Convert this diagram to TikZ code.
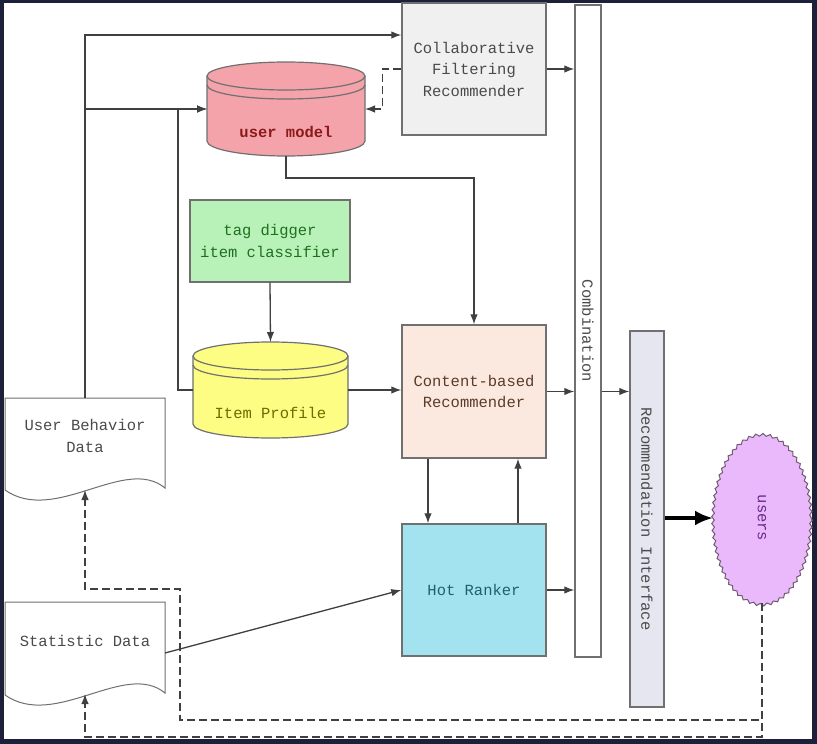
\documentclass[tikz,border=0pt]{standalone}
\usepackage{fontspec}
\setmonofont{Liberation Mono}
\usetikzlibrary{arrows.meta,decorations.pathmorphing,calc,shapes.geometric}
\definecolor{framec}{HTML}{1C2038}
\definecolor{linec}{HTML}{404040}
\definecolor{bordc}{HTML}{707070}
\definecolor{cfc}{HTML}{F0F0F0}
\definecolor{umc}{HTML}{F5A3AB}
\definecolor{tdc}{HTML}{B9F2B9}
\definecolor{ipc}{HTML}{FDFD84}
\definecolor{cbc}{HTML}{FBE9DF}
\definecolor{hrc}{HTML}{A3E3EF}
\definecolor{ric}{HTML}{E6E6F0}
\definecolor{usc}{HTML}{E9B9FB}
\definecolor{grayt}{HTML}{4A4A4A}
\definecolor{umt}{HTML}{8B1A1A}
\definecolor{tdt}{HTML}{1F6F1F}
\definecolor{ipt}{HTML}{6B6B00}
\definecolor{cbt}{HTML}{5B3A2A}
\definecolor{hrt}{HTML}{1F5F6F}
\definecolor{ust}{HTML}{6A2A8A}
\newcommand{\dfont}{\ttfamily\fontsize{15.5}{21.5}\selectfont}
\begin{document}
\begin{tikzpicture}[x=1pt,y=-1pt,
  box/.style={draw=bordc, line width=1.4pt, inner sep=0pt, align=center, font=\dfont},
  anchorbox/.style={inner sep=0pt, outer sep=0pt},
  lbl/.style={font=\dfont, align=center, inner sep=0pt},
  cyl/.style={draw=bordc, line width=1.2pt},
  docst/.style={draw=bordc, line width=1pt, fill=white},
  arr/.style={draw=linec, line width=1.3pt, -{Latex[length=10pt,width=7.5pt]}},
  dasharr/.style={draw=linec, line width=1.3pt, dash pattern=on 8pt off 4pt, -{Latex[length=10pt,width=7.5pt]}},
  thickarr/.style={draw=black, line width=3.5pt, -{Latex[length=18pt,width=15pt]}}
]
\useasboundingbox (0,0) rectangle (817,744);
\fill[framec] (0,0) rectangle (817,744);
\fill[white] (4,3) rectangle (812,739);

% Collaborative Filtering Recommender
\node[box, fill=cfc, text=grayt, minimum width=144pt, minimum height=132pt] (cf) at (474,69) {Collaborative\\Filtering\\Recommender};
% Content-based
\node[box, fill=cbc, text=cbt, minimum width=144pt, minimum height=133pt] (cb) at (474,391.5) {Content-based\\Recommender};
% Hot Ranker
\node[box, fill=hrc, text=hrt, minimum width=144pt, minimum height=132pt] (hr) at (474,590) {Hot Ranker};
% tag digger
\node[box, fill=tdc, text=tdt, minimum width=160pt, minimum height=82pt] (td) at (270,241) {tag digger\\item classifier};
% Combination bar
\node[box, fill=white, minimum width=26pt, minimum height=652pt] (comb) at (588,331) {};
\node[lbl, text=grayt, rotate=-90] (combt) at (comb.center) {Combination};
% Recommendation Interface bar
\node[box, fill=ric, minimum width=34pt, minimum height=376pt] (ri) at (647,519) {};
\node[lbl, text=grayt, rotate=-90] (rit) at (ri.center) {Recommendation Interface};

% users cloud
\node[anchorbox, ellipse, minimum width=98pt, minimum height=170pt] (users) at (762,518) {};
\filldraw[draw=bordc!80!violet, line width=1pt, fill=usc, decorate, decoration={snake, segment length=7pt, amplitude=1.3pt}] (762,518) ellipse[x radius=49, y radius=85];
\node[lbl, text=ust, rotate=-90] (ust) at (users.center) {users};

% user model cylinder
\node[anchorbox, minimum width=158pt, minimum height=94pt] (um) at (286,109) {};
\filldraw[cyl, fill=umc] (207,76) -- (207,141) arc[start angle=180, end angle=0, x radius=79, y radius=15] -- (365,76) arc[start angle=0, end angle=-180, x radius=79, y radius=14] -- cycle;
\draw[cyl] (207,76) arc[start angle=180, end angle=0, x radius=79, y radius=14];
\draw[cyl] (207,85) arc[start angle=180, end angle=0, x radius=79, y radius=14];
\node[lbl, text=umt] (umtext) at (286,132) {\bfseries user model};

% Item Profile cylinder
\node[anchorbox, minimum width=155pt, minimum height=96pt] (ip) at (270.5,390) {};
\filldraw[cyl, fill=ipc] (193,356) -- (193,424) arc[start angle=180, end angle=0, x radius=77.5, y radius=14] -- (348,356) arc[start angle=0, end angle=-180, x radius=77.5, y radius=14] -- cycle;
\draw[cyl] (193,356) arc[start angle=180, end angle=0, x radius=77.5, y radius=14];
\draw[cyl] (193,365) arc[start angle=180, end angle=0, x radius=77.5, y radius=14];
\node[lbl, text=ipt] (iptext) at (270.5,413) {Item Profile};

% User Behavior Data document
\node[anchorbox, minimum width=160pt, minimum height=92pt] (ubd) at (85,444) {};
\filldraw[docst] (5,398) -- (165,398) -- (165,488) .. controls (125,455) and (55,525) .. (5,490) -- cycle;
\node[lbl, text=grayt] (ubdt) at (85,436) {User Behavior\\Data};

% Statistic Data document
\node[anchorbox, minimum width=160pt, minimum height=92pt] (sd) at (85,648) {};
\filldraw[docst] (5,602) -- (165,602) -- (165,693) .. controls (125,660) and (55,730) .. (5,695) -- cycle;
\node[lbl, text=grayt] (sdt) at (85,641) {Statistic Data};

% connectors
\draw[arr] (ubd.north) |- ([yshift=34pt]cf.west);
\draw[arr] (ubd.north) |- (um.west);
\draw[arr] (ip.west) -- ++(-15,0) |- (um.west);
\draw[dasharr] (cf.west) -- ++(-19,0) |- (um.east);
\draw[arr] (um.south) -- ++(0,22) -| (cb.north);
\draw[arr] (td.south) -- (ip.north);
\draw[arr] (ip.east) -- (ip.east -| cb.west);
\draw[arr] (cf.east) -- (cf.east -| comb.west);
\draw[arr] (cb.east) -- (cb.east -| comb.west);
\draw[arr] (comb.east |- cb.east) -- (ri.west |- cb.east);
\draw[arr] (hr.east) -- (hr.east -| comb.west);
\draw[arr] ([xshift=-46pt]cb.south) -- ([xshift=-46pt]hr.north);
\draw[arr] ([xshift=44pt]hr.north) -- ([xshift=44pt]cb.south);
\draw[arr] ([yshift=-5pt]sd.east) -- (hr.west);
\draw[thickarr] (ri.east |- users.west) -- (users.west);
\draw[dasharr] (users.south) -- ++(0,117) -| (180,589) -| (ubd.south);
\draw[dasharr] (users.south) -- ++(0,134) -| (sd.south);
\end{tikzpicture}
\end{document}
